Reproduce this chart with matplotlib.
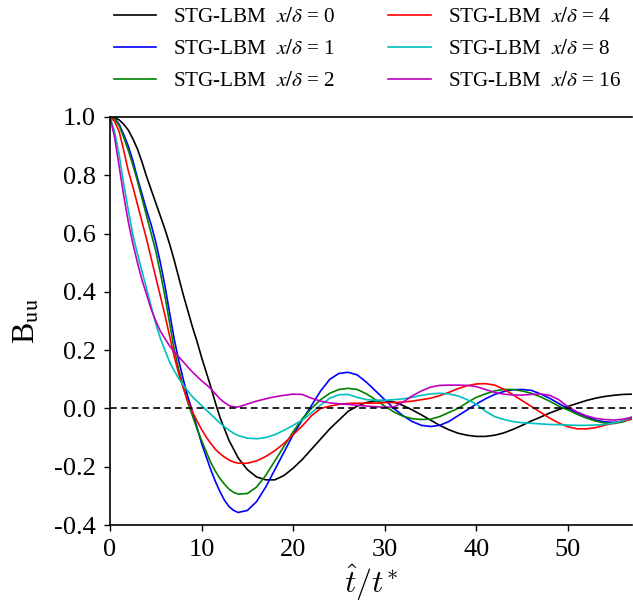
import matplotlib
matplotlib.use("Agg")
import matplotlib.pyplot as plt
import numpy as np

plt.rcParams['font.family'] = ['Liberation Serif', 'DejaVu Serif']
plt.rcParams['mathtext.fontset'] = 'stix'

# time axis: finer sampling over the initial decay, then unit steps
t = [i * 0.5 for i in range(0, 29)] + list(range(15, 58))

labels = [r'STG-LBM  $x/\delta$ = 0', r'STG-LBM  $x/\delta$ = 1', r'STG-LBM  $x/\delta$ = 2',
          r'STG-LBM  $x/\delta$ = 4', r'STG-LBM  $x/\delta$ = 8', r'STG-LBM  $x/\delta$ = 16']
colors = ['k', 'b', 'g', 'r', 'c', 'm']

b_x0 = [1.0, 0.998, 0.99, 0.975, 0.955, 0.925, 0.89, 0.845, 0.795, 0.75, 0.705, 0.66, 0.615, 0.565,
        0.51, 0.45, 0.39, 0.335, 0.28, 0.23, 0.175, 0.125, 0.075, 0.02, -0.03, -0.07, -0.11, -0.14, -0.17,
        -0.21, -0.235, -0.245, -0.245, -0.23, -0.205, -0.175, -0.14, -0.105, -0.07, -0.04, -0.01, 0.008,
        0.02, 0.026, 0.027, 0.022, 0.01, -0.005, -0.022, -0.04, -0.058, -0.073, -0.085, -0.092, -0.096,
        -0.096, -0.092, -0.084, -0.072, -0.058, -0.043, -0.03, -0.016, -0.004, 0.007, 0.017, 0.027, 0.035,
        0.041, 0.045, 0.048, 0.049]
b_x1 = [1.0, 0.995, 0.975, 0.94, 0.9, 0.85, 0.79, 0.735, 0.68, 0.63, 0.57, 0.5, 0.42, 0.33, 0.24, 0.165,
        0.10, 0.04, -0.01, -0.065, -0.12, -0.165, -0.21, -0.25, -0.285, -0.315, -0.337, -0.35, -0.357,
        -0.35, -0.32, -0.27, -0.21, -0.15, -0.09, -0.04, 0.01, 0.06, 0.10, 0.12, 0.124, 0.115, 0.09, 0.06,
        0.03, 0.0, -0.025, -0.045, -0.058, -0.062, -0.058, -0.045, -0.025, -0.005, 0.015, 0.033, 0.048,
        0.058, 0.064, 0.065, 0.062, 0.05, 0.035, 0.017, 0.0, -0.015, -0.028, -0.04, -0.046, -0.048, -0.044,
        -0.034]
b_x2 = [1.0, 0.993, 0.97, 0.93, 0.885, 0.835, 0.78, 0.72, 0.66, 0.60, 0.54, 0.465, 0.385, 0.295, 0.205,
        0.135, 0.075, 0.02, -0.025, -0.07, -0.11, -0.148, -0.185, -0.215, -0.24, -0.26, -0.277, -0.288,
        -0.294, -0.292, -0.27, -0.23, -0.18, -0.13, -0.08, -0.035, 0.0, 0.03, 0.052, 0.065, 0.069, 0.065,
        0.05, 0.03, 0.008, -0.012, -0.027, -0.035, -0.038, -0.037, -0.028, -0.014, 0.0, 0.02, 0.038, 0.05,
        0.06, 0.065, 0.065, 0.06, 0.052, 0.04, 0.025, 0.008, -0.005, -0.02, -0.033, -0.043, -0.05, -0.052,
        -0.046, -0.034]
b_x4 = [1.0, 0.985, 0.95, 0.885, 0.815, 0.76, 0.70, 0.64, 0.58, 0.515, 0.45, 0.385, 0.32, 0.25, 0.18,
        0.12, 0.07, 0.025, -0.012, -0.043, -0.072, -0.098, -0.12, -0.14, -0.155, -0.167, -0.177, -0.184,
        -0.188, -0.188, -0.18, -0.165, -0.145, -0.12, -0.09, -0.06, -0.025, 0.0, 0.008, 0.014, 0.017, 0.018,
        0.018, 0.018, 0.02, 0.02, 0.022, 0.025, 0.03, 0.035, 0.044, 0.055, 0.068, 0.078, 0.084, 0.085, 0.08,
        0.066, 0.047, 0.027, 0.007, -0.013, -0.033, -0.05, -0.063, -0.07, -0.07, -0.066, -0.058, -0.05,
        -0.043, -0.037]
b_x8 = [1.0, 0.95, 0.87, 0.77, 0.68, 0.595, 0.53, 0.47, 0.41, 0.35, 0.29, 0.24, 0.20, 0.16, 0.13, 0.103,
        0.08, 0.06, 0.04, 0.025, 0.01, -0.005, -0.02, -0.035, -0.05, -0.063, -0.075, -0.085, -0.093,
        -0.102, -0.104, -0.10, -0.09, -0.075, -0.058, -0.04, -0.015, 0.012, 0.035, 0.047, 0.048, 0.038,
        0.03, 0.028, 0.028, 0.03, 0.033, 0.038, 0.045, 0.05, 0.052, 0.05, 0.043, 0.03, 0.015, -0.01, -0.028,
        -0.038, -0.045, -0.049, -0.051, -0.053, -0.055, -0.056, -0.057, -0.058, -0.058, -0.057, -0.055,
        -0.05, -0.042, -0.03]
b_x16 = [1.0, 0.93, 0.83, 0.73, 0.64, 0.565, 0.50, 0.44, 0.39, 0.34, 0.30, 0.265, 0.24, 0.215, 0.195,
         0.177, 0.16, 0.142, 0.125, 0.11, 0.095, 0.082, 0.068, 0.05, 0.033, 0.02, 0.01, 0.005, 0.005, 0.015,
         0.025, 0.033, 0.04, 0.045, 0.049, 0.048, 0.035, 0.025, 0.019, 0.016, 0.014, 0.011, 0.008, 0.006,
         0.004, 0.005, 0.022, 0.043, 0.06, 0.073, 0.079, 0.08, 0.08, 0.079, 0.075, 0.065, 0.055, 0.049,
         0.046, 0.046, 0.048, 0.05, 0.045, 0.03, 0.006, -0.012, -0.025, -0.034, -0.038, -0.04, -0.037, -0.03]

series = [b_x0, b_x1, b_x2, b_x4, b_x8, b_x16]

fig = plt.figure(figsize=(6.33, 6.07), dpi=100)
ax = fig.add_axes([110 / 633, 1 - 525 / 607, 522 / 633, 408 / 607])

lines = []
for y, c, lab in zip(series, colors, labels):
    ln, = ax.plot(t, y, color=c, lw=1.2, label=lab)
    lines.append(ln)

ax.axhline(0.0, color='k', ls='--', lw=1.2, dashes=(4, 2.5))

ax.set_xlim(0, 57)
ax.set_ylim(-0.4, 1.0)
ax.set_xticks([0, 10, 20, 30, 40, 50])
ax.set_yticks([-0.4, -0.2, 0.0, 0.2, 0.4, 0.6, 0.8, 1.0])
ax.set_yticklabels(['-0.4', '-0.2', '0.0', '0.2', '0.4', '0.6', '0.8', '1.0'])
ax.tick_params(axis='both', direction='out', length=4, width=1, labelsize=19, pad=6,
               top=False, right=False)
ax.spines['right'].set_visible(False)
for s in ['left', 'bottom', 'top']:
    ax.spines[s].set_linewidth(1.2)

ax.set_xlabel(r'$\hat{t}/t^{*}$', fontsize=23, labelpad=1, math_fontfamily='cm')
ax.set_ylabel(r'B$_{\mathrm{uu}}$', fontsize=23, labelpad=9)

fig.legend(lines, labels, ncol=2,
           loc='upper left', bbox_to_anchor=(112 / 633, 1 - 5 / 607), frameon=False,
           fontsize=15.2, handlelength=2.0, handletextpad=0.8, columnspacing=2.5,
           labelspacing=0.58, borderaxespad=0.0, borderpad=0.1)

fig.savefig('out.png', dpi=100)
